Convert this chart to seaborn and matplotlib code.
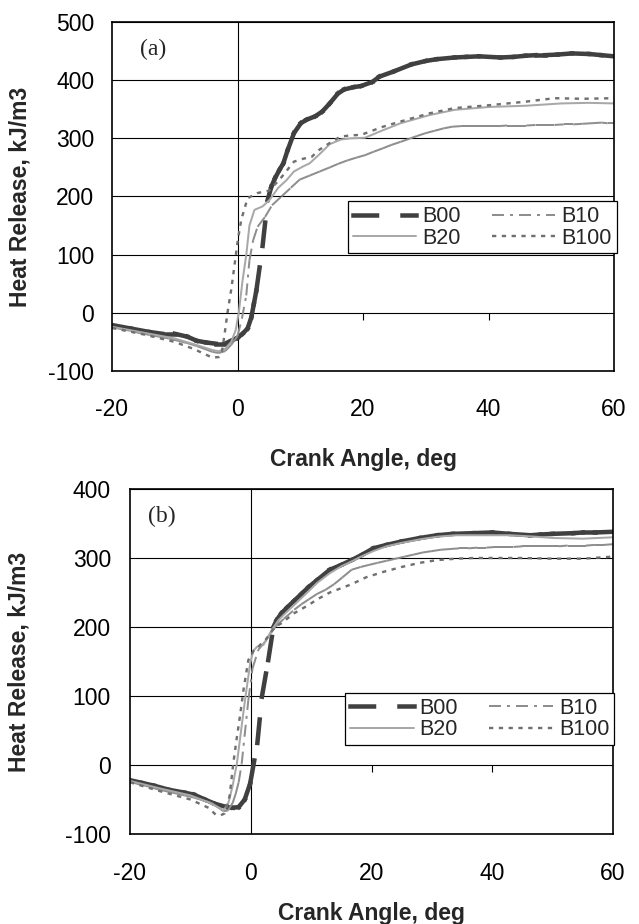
import matplotlib
matplotlib.use("Agg")
import numpy as np
import pandas as pd
import matplotlib.pyplot as plt
import seaborn as sns
from matplotlib.lines import Line2D

sns.set_style("white")
plt.rcParams['font.family'] = ['Liberation Sans', 'DejaVu Sans']
plt.rcParams['axes.unicode_minus'] = False
plt.rcParams['lines.scale_dashes'] = False

# ---------------- data: panel (a) ----------------
a_B00_x = [-20, -17, -14, -12, -10, -8, -6.5, -5, -3.5, -2, -1, 0, 0.8, 1.6, 2.2, 2.6, 3.0, 4.0, 4.8,
           5.4, 6.0, 6.7, 7.3, 8.0, 9.0, 10.1, 11.0, 12.4, 13.5, 14.7, 16.0, 17.0, 18.5, 19.7, 21.5,
           22.6, 24.9, 27.7, 30, 31.7, 34.6, 36.5, 38.5, 41.9, 44, 45.9, 47.5, 49, 51, 53.3, 56, 58, 60]
a_B00_y = [-21, -27, -33, -36, -36, -41, -48, -51, -53, -53, -48, -43, -36, -27, -8, 15, 38, 115, 194,
           217, 232, 246, 257, 280, 309, 326, 332, 338, 346, 360, 377, 384, 388, 390, 397,
           406, 415, 427, 433, 436, 439, 440, 441, 439, 440, 442, 443, 443, 444, 446, 445, 443, 441]

a_B10_x = [-20, -18.5, -17, -15.5, -14, -12.5, -11, -9.5, -8, -6.5, -5, -4, -3, -2, -1, 0, 0.7, 1.4,
           1.9, 2.5, 3.2, 4.4, 5.5, 7.0, 8.5, 9.9, 11.5, 13.1, 14.7, 16, 17.5, 19, 20.3, 21.7, 23.2,
           24.6, 26, 27.3, 28.6, 30, 31.4, 32.8, 34.2, 35.6, 37, 38.5, 40, 41.5, 43, 44.5, 46, 47.5,
           49, 50.5, 52, 53.5, 55, 56.5, 58, 59, 60]
a_B10_y = [-25, -28, -31, -35, -38, -41, -44, -48, -52, -57, -63, -67, -69, -66, -55, -40, -10, 30,
           90, 125, 148, 165, 185, 200, 215, 229, 236, 243, 250, 256, 262, 267, 271, 277, 283,
           289, 294, 299, 304, 309, 313, 317, 320, 321, 321, 321, 321, 321, 322, 322, 322, 323,
           323, 323, 324, 324, 325, 326, 327, 326, 326]

a_B20_x = [-20, -15, -10, -6, -4, -3, -2, -1, -0.3, 0.2, 0.8, 1.4, 1.9, 2.7, 4.0, 5.1, 6.5, 7.8, 9.0,
           10.5, 11.5, 13, 14.7, 16.5, 18, 20.3, 23.2, 26, 30.6, 34.6, 40.2, 45.9, 51.6, 56, 60]
a_B20_y = [-24, -34, -44, -57, -64, -66, -62, -50, -30, 0, 55, 100, 150, 177, 183, 194, 215, 228, 243,
           252, 257, 272, 290, 298, 300, 301, 314, 326, 340, 349, 354, 356, 360, 361, 360]

a_B100_x = [-20, -15, -10, -7, -5, -4, -3, -2.5, -2.1, -1.6, -1.0, -0.5, 0.05, 0.6, 1.6, 3.2, 5.0, 6.7,
            9.0, 10.5, 11.8, 13, 14.7, 16.4, 18, 19.7, 23.2, 26, 30.6, 34.6, 40.2, 45.9, 50.5, 55, 60]
a_B100_y = [-26, -37, -50, -62, -72, -77, -76, -68, -40, 0, 40, 80, 125, 160, 197, 206, 210, 229,
            260, 265, 268, 280, 292, 303, 305, 306, 320, 329, 343, 352, 357, 363, 369, 368, 369]

# ---------------- data: panel (b) ----------------
b_B00_x = [-20, -18, -16, -13.5, -11, -9.4, -7.6, -6, -4, -3, -2, -1, -0.1, 1.1, 1.85, 2.9, 3.75, 4.3,
           5.1, 6, 7.2, 8.4, 9.6, 11, 13.1, 15, 16.7, 18.5, 20.3, 22.5, 25, 28, 30.9, 33.5, 36.8,
           40, 42.8, 46.3, 48, 50, 53.4, 55, 57, 60]
b_B00_y = [-22, -26, -30, -36, -40, -43, -50, -56, -61, -62, -61, -50, -27, 32, 99, 152, 200, 210,
           220, 228, 238, 248, 258, 268, 283, 290, 297, 305, 314, 319, 324, 329, 333, 335, 336,
           337, 335, 333, 334, 335, 336, 337, 337, 338]

b_B10_x = [-20, -18.5, -17, -15.5, -14, -12.5, -11, -9.5, -8, -6.5, -5, -4.5, -3.8, -3, -2.5, -2,
           -1.5, -0.4, 0.3, 1.25, 2.5, 3.2, 4, 5.5, 7.2, 8.4, 9.6, 11, 12.4, 13.8, 15.2, 16.7, 18.2,
           19.6, 21, 22.5, 24, 25.5, 27, 28.5, 30, 31.5, 33, 34.5, 36, 37.5, 39, 40.5, 42, 43.5, 45,
           46.5, 48, 49.5, 51, 52.5, 54, 55.5, 57, 58.5, 60]
b_B10_y = [-24, -28, -31, -35, -38, -41, -44, -47, -51, -55, -64, -67, -66, -55, -42, -25,
           2, 94, 140, 167, 180, 190, 200, 212, 225, 233, 240, 248, 254, 262, 272, 283, 287,
           290, 293, 296, 299, 302, 305, 308, 310, 312, 313, 314, 314, 315, 315, 316, 316, 316, 317,
           317, 317, 317, 317, 318, 318, 318, 319, 319, 320]

b_B20_x = [-20, -15, -10, -7, -5, -4.5, -3.7, -3, -2.3, -1.6, -0.95, -0.1, 0.4, 1.0, 2.1, 3.5, 4.6,
           5.5, 7.2, 9.6, 11, 13.1, 15, 16.7, 18.5, 20.3, 22.5, 25, 28, 31, 34, 37, 40, 43, 47, 50,
           55, 60]
b_B20_y = [-23, -34, -44, -54, -63, -66, -55, -30, 2, 50, 94, 147, 165, 171, 174, 196, 210,
           218, 232, 252, 264, 278, 288, 295, 303, 310, 317, 322, 327, 331, 333, 333, 333, 333, 331,
           329, 328, 330]

b_B100_x = [-20, -15, -10, -7, -5.8, -5, -4.3, -3.5, -2.9, -2.3, -1.8, -1.2, -0.4, 0.5, 1.2, 2.5, 4,
            5, 7.2, 9.6, 11, 13.1, 16.7, 19.1, 22, 25, 28, 30.9, 34, 37, 45, 50, 55, 60]
b_B100_y = [-25, -38, -50, -62, -72, -73, -70, -45, 2, 40, 70, 109, 152, 166, 171, 182, 200,
            205, 220, 232, 240, 250, 262, 272, 280, 287, 293, 297, 299, 300, 300, 299, 299, 302]

series_names = ["B00", "B10", "B20", "B100"]
x_ticks = [-20, 0, 20, 40, 60]
a_y_ticks = [-100, 0, 100, 200, 300, 400, 500]
b_y_ticks = [-100, 0, 100, 200, 300, 400]
x_label = "Crank Angle, deg"
y_label = "Heat Release, kJ/m3"

panel_a = {"B00": (a_B00_x, a_B00_y), "B10": (a_B10_x, a_B10_y),
           "B20": (a_B20_x, a_B20_y), "B100": (a_B100_x, a_B100_y)}
panel_b = {"B00": (b_B00_x, b_B00_y), "B10": (b_B10_x, b_B10_y),
           "B20": (b_B20_x, b_B20_y), "B100": (b_B100_x, b_B100_y)}

# ---------------- styles ----------------
PX = 0.72  # points per pixel at 100 dpi
STYLE = {
    "B00": dict(color="#404040", lw=4.5 * PX, dash=(23.5 * PX, 25.5 * PX), cap="projecting", seg=True),
    "B10": dict(color="#8e8e8e", lw=2.0 * PX, dash=(12 * PX, 6 * PX, 3 * PX, 6 * PX), cap="butt", seg=True),
    "B20": dict(color="#a8a8a8", lw=2.0 * PX, dash=None, cap="butt", seg=False),
    "B100": dict(color="#707070", lw=2.4 * PX, dash=(4.3 * PX, 5.5 * PX), cap="butt", seg=False),
}


def seg_frame(xs, ys):
    rows = []
    for i in range(len(xs) - 1):
        rows.append((xs[i], ys[i], i))
        rows.append((xs[i + 1], ys[i + 1], i))
    return pd.DataFrame(rows, columns=["x", "y", "seg"])


def draw_series(ax, name, xs, ys):
    st = STYLE[name]
    ls = "-" if st["dash"] is None else (0, st["dash"])
    kw = dict(color=st["color"], lw=st["lw"], linestyle=ls, dash_capstyle=st["cap"],
              solid_capstyle="round", legend=False, ax=ax)
    if st["seg"]:
        df = seg_frame(xs, ys)
        sns.lineplot(data=df, x="x", y="y", units="seg", estimator=None, sort=False, **kw)
    else:
        df = pd.DataFrame({"x": xs, "y": ys})
        sns.lineplot(data=df, x="x", y="y", estimator=None, sort=False, **kw)


def handle(name):
    st = STYLE[name]
    ls = "-" if st["dash"] is None else (0, st["dash"])
    return Line2D([], [], color=st["color"], lw=st["lw"], linestyle=ls, dash_capstyle=st["cap"])


fig = plt.figure(figsize=(6.39, 9.24), dpi=100)
ax_a = fig.add_axes([112 / 639, 1 - 371 / 924, 502 / 639, 349 / 924])
ax_b = fig.add_axes([130 / 639, 1 - 834 / 924, 483 / 639, 345 / 924])

configs = [
    (ax_a, panel_a, a_y_ticks, "(a)", (0.082, 0.92), (0.470, 0.486), 12.7, 19.7, -0.161, -0.2215),
    (ax_b, panel_b, b_y_ticks, "(b)", (0.066, 0.92), (0.446, 0.408), 13.7, 19.9, -0.205, -0.196),
]

for ax, pdata, yt, tag, tagpos, legpos, ypad, xpad, ylab_x, xlab_y in configs:
    ax.set_xlim(-20, 60)
    ax.set_ylim(yt[0], yt[-1])
    ax.set_xticks(x_ticks)
    ax.set_yticks(yt)
    ax.yaxis.grid(True, color="black", lw=0.8)
    ax.xaxis.grid(False)
    ax.axvline(0, color="black", lw=0.8, zorder=1)
    for sp in ax.spines.values():
        sp.set_visible(True)
        sp.set_color("black")
        sp.set_linewidth(1.2)
    ax.tick_params(axis="both", length=0, labelsize=16.5, colors="black")
    ax.tick_params(axis="y", pad=ypad)
    ax.tick_params(axis="x", pad=xpad)

    for name in series_names:
        xs, ys = pdata[name]
        draw_series(ax, name, xs, ys)

    # x-axis crossing at y = 0 with tick marks
    frac0 = (0 - yt[0]) / (yt[-1] - yt[0])
    sec = ax.secondary_xaxis(frac0)
    sec.set_xticks([20, 40])
    sec.tick_params(axis="x", direction="out", length=5, width=0.8, color="black",
                    labelbottom=False, labeltop=False)
    for sp in sec.spines.values():
        sp.set_visible(False)

    ax.set_xlabel(x_label, fontsize=16.5, fontweight="bold")
    ax.set_ylabel(y_label, fontsize=16.5, fontweight="bold")
    ax.xaxis.set_label_coords(0.5, xlab_y)
    ax.yaxis.set_label_coords(ylab_x, 0.5)

    ax.text(tagpos[0], tagpos[1], tag, transform=ax.transAxes, fontsize=17,
            family=["Liberation Serif", "DejaVu Serif"], ha="center", va="center")

    order = ["B00", "B20", "B10", "B100"]
    leg = ax.legend([handle(n) for n in order], order, ncol=2, loc="upper left",
                    bbox_to_anchor=legpos, borderaxespad=0, fontsize=15.5,
                    handlelength=2.95, handletextpad=0.28, columnspacing=1.45,
                    labelspacing=0.02, borderpad=0.22, fancybox=False, framealpha=1)
    leg.get_frame().set_edgecolor("black")
    leg.get_frame().set_linewidth(0.9)

fig.savefig("out.png", dpi=100)
